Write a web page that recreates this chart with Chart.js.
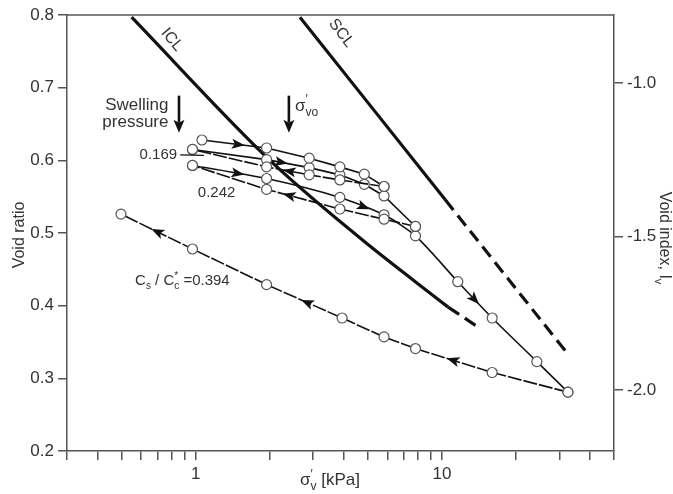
<!DOCTYPE html>
<html>
<head>
<meta charset="utf-8">
<script src="https://cdn.jsdelivr.net/npm/chart.js@4/dist/chart.umd.min.js"></script>
<style>
  html, body { margin: 0; padding: 0; background: #fff; }
  canvas { display: block; }
</style>
</head>
<body>
<canvas id="voidChart" width="673" height="494"></canvas>
<script>
// ---- data (stress in kPa, void ratio e) ----
const load1Stress   = [1.06, 1.94, 2.89, 3.85, 4.84, 5.82];
const load1Void     = [0.628, 0.617, 0.603, 0.591, 0.581, 0.564];

const unload1Stress = [5.82, 3.85, 2.89, 1.94, 0.97];          // Cs/Cc* = 0.169
const unload1Void   = [0.564, 0.573, 0.580, 0.591, 0.615];

const reload1Stress = [0.97, 1.94, 2.89, 3.85, 4.84, 5.82, 7.81];
const reload1Void   = [0.615, 0.601, 0.590, 0.580, 0.567, 0.551, 0.509];

const unload2Stress = [7.81, 5.82, 3.85, 1.94, 0.97];          // 0.242
const unload2Void   = [0.509, 0.519, 0.533, 0.560, 0.593];

const reload2Stress = [0.97, 1.94, 3.85, 5.82, 7.81, 11.6, 16.0, 24.3, 32.5];
const reload2Void   = [0.593, 0.575, 0.549, 0.525, 0.496, 0.433, 0.383, 0.323, 0.281];

const unload3Stress = [32.5, 16.0, 7.81, 5.82, 3.93, 1.94, 0.97, 0.497];   // 0.394
const unload3Void   = [0.281, 0.308, 0.341, 0.357, 0.383, 0.429, 0.478, 0.526];

const iclStress    = [0.549, 1.93, 4.65, 10.6];
const iclVoid      = [0.797, 0.605, 0.493, 0.398];
const iclExtStress = [10.6, 14.4];
const iclExtVoid   = [0.398, 0.368];

const sclStress    = [2.65, 10.3];
const sclVoid      = [0.797, 0.546];
const sclExtStress = [10.3, 32.2];
const sclExtVoid   = [0.546, 0.335];

// axes
const xTicks = [0.3, 0.4, 0.5, 0.6, 0.7, 0.8, 0.9, 1, 2, 3, 4, 5, 6, 7, 8, 9, 10, 20, 30, 40, 50];
const xTickLabels = [1, 10];
const yTicks = [0.2, 0.3, 0.4, 0.5, 0.6, 0.7, 0.8];
const ivTicks = [-2.0, -1.5, -1.0];
const ccStar = 0.4219, e100 = 1.128;   // Iv = (e - e100) / Cc*

// where the little direction arrows sit: dataset, segment, fraction along it
const arrowMarks = [
  { ds: 0, seg: 0, at: 0.57 },
  { ds: 2, seg: 1, at: 0.36 },
  { ds: 1, seg: 2, at: 0.48 },
  { ds: 4, seg: 0, at: 0.62 },
  { ds: 3, seg: 2, at: 0.7 },
  { ds: 4, seg: 2, at: 0.55 },
  { ds: 4, seg: 5, at: 0.5 },
  { ds: 5, seg: 1, at: 0.52 },
  { ds: 5, seg: 4, at: 0.47 },
  { ds: 5, seg: 6, at: 0.5 }
];

const FONT = "'Liberation Sans', Arial, Helvetica, sans-serif";
Chart.defaults.font.family = FONT;
Chart.defaults.font.size = 17;
Chart.defaults.color = '#333';

const pts = (s, e) => s.map((v, i) => ({ x: v, y: e[i] }));

function series(s, e, dashed, extra) {
  return Object.assign({
    data: pts(s, e),
    borderColor: '#111',
    borderWidth: 1.6,
    borderDash: dashed ? [14, 2] : [],
    pointRadius: 5,
    pointBackgroundColor: '#fff',
    pointBorderColor: '#555',
    pointBorderWidth: 1.2,
    tension: 0
  }, extra || {});
}

function refLine(s, e, dashed) {
  return {
    data: pts(s, e),
    borderColor: '#111',
    borderWidth: 3.2,
    borderDash: dashed ? [13, 7] : [],
    pointRadius: 0,
    tension: 0.35
  };
}

function drawRich(ctx, parts, x, y, size, align) {
  const fontFor = k => (k ? Math.round(size * 0.68) : size) + 'px ' + FONT;
  let w = 0;
  parts.forEach(([t, k, stay]) => { ctx.font = fontFor(k); if (!stay) w += ctx.measureText(t).width; });
  let cx = align === 'center' ? x - w / 2 : align === 'right' ? x - w : x;
  ctx.textAlign = 'left';
  ctx.textBaseline = 'alphabetic';
  parts.forEach(([t, k, stay]) => {
    ctx.font = fontFor(k);
    const dy = k === 'sub' ? size * 0.3 : k === 'sup' ? -size * 0.42 : 0;
    ctx.fillText(t, cx, y + dy);
    if (!stay) cx += ctx.measureText(t).width;
  });
}

function downArrow(ctx, x, y0, y1) {
  ctx.save();
  ctx.strokeStyle = '#111';
  ctx.fillStyle = '#111';
  ctx.lineWidth = 2.6;
  ctx.beginPath();
  ctx.moveTo(x, y0);
  ctx.lineTo(x, y1 - 10);
  ctx.stroke();
  ctx.beginPath();
  ctx.moveTo(x, y1);
  ctx.lineTo(x - 5.5, y1 - 13);
  ctx.lineTo(x, y1 - 10);
  ctx.lineTo(x + 5.5, y1 - 13);
  ctx.closePath();
  ctx.fill();
  ctx.restore();
}

const annotations = {
  id: 'annotations',
  afterDatasetsDraw(chart) {
    const { ctx, scales: { x, y } } = chart;
    const X = v => x.getPixelForValue(v), Y = v => y.getPixelForValue(v);

    // direction arrows on the test paths
    ctx.save();
    ctx.fillStyle = '#111';
    arrowMarks.forEach(m => {
      const d = chart.getDatasetMeta(m.ds).data;
      const p0 = d[m.seg], p1 = d[m.seg + 1];
      const px = p0.x + (p1.x - p0.x) * m.at, py = p0.y + (p1.y - p0.y) * m.at;
      const ang = Math.atan2(p1.y - p0.y, p1.x - p0.x);
      ctx.save();
      ctx.translate(px, py);
      ctx.rotate(ang);
      ctx.beginPath();
      ctx.moveTo(6, 0);
      ctx.lineTo(-7, -5);
      ctx.lineTo(-4, 0);
      ctx.lineTo(-7, 5);
      ctx.closePath();
      ctx.fill();
      ctx.restore();
    });
    ctx.restore();

    ctx.save();
    ctx.fillStyle = '#333';
    // ICL / SCL labels
    [['ICL', 0.80, 0.766, 50], ['SCL', 3.9, 0.775, 52]].forEach(([t, sv, ev, deg]) => {
      ctx.save();
      ctx.translate(X(sv), Y(ev));
      ctx.rotate(deg * Math.PI / 180);
      ctx.font = '16px ' + FONT;
      ctx.textAlign = 'center';
      ctx.textBaseline = 'middle';
      ctx.fillText(t, 0, 0);
      ctx.restore();
    });

    // swelling pressure and sigma'vo arrows
    downArrow(ctx, X(0.855), Y(0.689), Y(0.638));
    downArrow(ctx, X(2.39), Y(0.689), Y(0.638));
    ctx.font = '17px ' + FONT;
    ctx.textAlign = 'right';
    ctx.textBaseline = 'alphabetic';
    ctx.fillText('Swelling', X(0.775), Y(0.6693));
    ctx.fillText('pressure', X(0.775), Y(0.6459));
    drawRich(ctx, [['σ', ''], ['′', 'sup', true], ['vo', 'sub']], X(2.53), Y(0.6685), 17, 'left');

    // slope ratio labels
    ctx.font = '15px ' + FONT;
    ctx.textAlign = 'right';
    ctx.textBaseline = 'middle';
    ctx.fillText('0.169', X(0.84), Y(0.6074));
    ctx.strokeStyle = '#111';
    ctx.lineWidth = 1.2;
    ctx.beginPath();
    ctx.moveTo(X(0.865), Y(0.6074));
    ctx.lineTo(X(1.08), Y(0.6068));
    ctx.stroke();
    ctx.textAlign = 'left';
    ctx.fillText('0.242', X(1.02), Y(0.5552));
    drawRich(ctx, [['C', ''], ['s', 'sub'], [' / C', ''], ['*', 'sup', true], ['c', 'sub'], [' =0.394', '']],
      X(0.567), Y(0.4286), 15, 'left');
    ctx.restore();
  },
  afterDraw(chart) {
    const { ctx, chartArea: a } = chart;
    ctx.save();
    // top frame line
    ctx.strokeStyle = '#555';
    ctx.lineWidth = 1.5;
    ctx.beginPath();
    ctx.moveTo(a.left, a.top);
    ctx.lineTo(a.right, a.top);
    ctx.stroke();

    ctx.fillStyle = '#333';
    drawRich(ctx, [['σ', ''], ['′', 'sup', true], ['v', 'sub'], [' [kPa]', '']], 330, 485, 17, 'center');

    ctx.save();
    ctx.translate(19, 235);
    ctx.rotate(-Math.PI / 2);
    drawRich(ctx, [['Void ratio', '']], 0, 5, 16, 'center');
    ctx.restore();

    ctx.save();
    ctx.translate(664, 238);
    ctx.rotate(Math.PI / 2);
    drawRich(ctx, [['Void index, I', ''], ['v', 'sub']], 0, 4, 16, 'center');
    ctx.restore();
    ctx.restore();
  }
};

const axisLine = { color: '#555', width: 1.5 };
const tickGrid = { drawOnChartArea: false, tickLength: 9, color: '#555', lineWidth: 1.5 };

new Chart(document.getElementById('voidChart'), {
  type: 'line',
  data: {
    datasets: [
      series(load1Stress, load1Void, false),
      series(unload1Stress, unload1Void, true),
      series(reload1Stress, reload1Void, false),
      series(unload2Stress, unload2Void, true),
      series(reload2Stress, reload2Void, false, { tension: 0.25 }),
      series(unload3Stress, unload3Void, true),
      refLine(iclStress, iclVoid, false),
      refLine(iclExtStress, iclExtVoid, true),
      refLine(sclStress, sclVoid, false),
      refLine(sclExtStress, sclExtVoid, true)
    ]
  },
  options: {
    responsive: false,
    animation: false,
    layout: { padding: { top: 15, left: 0, right: 0, bottom: 0 } },
    plugins: { legend: { display: false }, tooltip: { enabled: false } },
    scales: {
      x: {
        type: 'logarithmic',
        min: 0.3,
        max: 50,
        afterBuildTicks: s => { s.ticks = xTicks.map(v => ({ value: v })); },
        afterFit: s => { s.height = 43; },
        ticks: {
          autoSkip: false, maxRotation: 0, minRotation: 0, padding: 4,
          callback: v => (xTickLabels.includes(v) ? String(v) : '')
        },
        grid: tickGrid,
        border: axisLine
      },
      y: {
        type: 'linear',
        position: 'left',
        min: 0.2,
        max: 0.8,
        afterBuildTicks: s => { s.ticks = yTicks.map(v => ({ value: v })); },
        afterFit: s => { s.width = 67; },
        ticks: { padding: 4, callback: v => v.toFixed(1) },
        grid: tickGrid,
        border: axisLine
      },
      iv: {
        type: 'linear',
        position: 'right',
        min: (0.2 - e100) / ccStar,
        max: (0.8 - e100) / ccStar,
        afterBuildTicks: s => { s.ticks = ivTicks.map(v => ({ value: v })); },
        afterFit: s => { s.width = 59; },
        ticks: { padding: 4, callback: v => v.toFixed(1) },
        grid: tickGrid,
        border: axisLine
      }
    }
  },
  plugins: [annotations]
});
</script>
</body>
</html>
